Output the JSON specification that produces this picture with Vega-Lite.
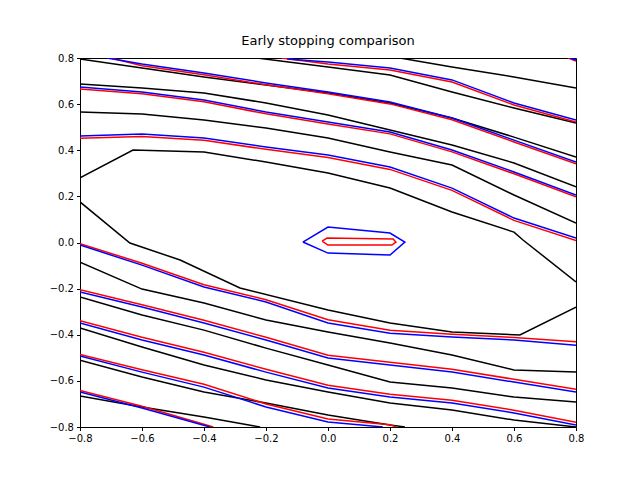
{
  "$schema": "https://vega.github.io/schema/vega-lite/v6.json",
  "width": 496,
  "height": 369,
  "autosize": "none",
  "padding": {"left": 80, "top": 58, "right": 64, "bottom": 53},
  "title": {"text": "Early stopping comparison", "font": "DejaVu Sans", "fontSize": 13, "fontWeight": "normal", "offset": 5},
  "data": {"values": [
    {"k":"T0","c":"k","x":0.232,"y":0.8},{"k":"T0","c":"k","x":0.4,"y":0.761},{"k":"T0","c":"k","x":0.6,"y":0.718},{"k":"T0","c":"k","x":0.8,"y":0.67},
    {"k":"T1","c":"k","x":-0.229,"y":0.8},{"k":"T1","c":"k","x":0,"y":0.761},{"k":"T1","c":"k","x":0.2,"y":0.726},{"k":"T1","c":"k","x":0.4,"y":0.653},{"k":"T1","c":"k","x":0.6,"y":0.583},{"k":"T1","c":"k","x":0.8,"y":0.518},
    {"k":"Ak","c":"k","x":-0.8,"y":0.796},{"k":"Ak","c":"k","x":-0.6,"y":0.757},{"k":"Ak","c":"k","x":-0.4,"y":0.718},{"k":"Ak","c":"k","x":-0.2,"y":0.683},{"k":"Ak","c":"k","x":0,"y":0.648},{"k":"Ak","c":"k","x":0.2,"y":0.605},{"k":"Ak","c":"k","x":0.4,"y":0.54},{"k":"Ak","c":"k","x":0.6,"y":0.457},{"k":"Ak","c":"k","x":0.8,"y":0.371},
    {"k":"Bk","c":"k","x":-0.8,"y":0.687},{"k":"Bk","c":"k","x":-0.6,"y":0.67},{"k":"Bk","c":"k","x":-0.4,"y":0.648},{"k":"Bk","c":"k","x":-0.2,"y":0.605},{"k":"Bk","c":"k","x":0,"y":0.553},{"k":"Bk","c":"k","x":0.2,"y":0.488},{"k":"Bk","c":"k","x":0.4,"y":0.423},{"k":"Bk","c":"k","x":0.6,"y":0.345},{"k":"Bk","c":"k","x":0.8,"y":0.241},
    {"k":"Ck","c":"k","x":-0.8,"y":0.566},{"k":"Ck","c":"k","x":-0.6,"y":0.557},{"k":"Ck","c":"k","x":-0.4,"y":0.531},{"k":"Ck","c":"k","x":-0.2,"y":0.496},{"k":"Ck","c":"k","x":0,"y":0.453},{"k":"Ck","c":"k","x":0.2,"y":0.392},{"k":"Ck","c":"k","x":0.4,"y":0.336},{"k":"Ck","c":"k","x":0.6,"y":0.206},{"k":"Ck","c":"k","x":0.8,"y":0.084},
    {"k":"Ok","c":"k","x":-0.8,"y":0.28},{"k":"Ok","c":"k","x":-0.629,"y":0.401},{"k":"Ok","c":"k","x":-0.4,"y":0.392},{"k":"Ok","c":"k","x":-0.2,"y":0.349},{"k":"Ok","c":"k","x":0,"y":0.301},{"k":"Ok","c":"k","x":0.2,"y":0.236},{"k":"Ok","c":"k","x":0.4,"y":0.132},{"k":"Ok","c":"k","x":0.6,"y":0.045},{"k":"Ok","c":"k","x":0.629,"y":0.011},{"k":"Ok","c":"k","x":0.8,"y":-0.171},
    {"k":"Pk","c":"k","x":-0.8,"y":0.176},{"k":"Pk","c":"k","x":-0.639,"y":-0.002},{"k":"Pk","c":"k","x":-0.477,"y":-0.076},{"k":"Pk","c":"k","x":-0.284,"y":-0.197},{"k":"Pk","c":"k","x":0,"y":-0.293},{"k":"Pk","c":"k","x":0.2,"y":-0.349},{"k":"Pk","c":"k","x":0.4,"y":-0.388},{"k":"Pk","c":"k","x":0.619,"y":-0.401},{"k":"Pk","c":"k","x":0.8,"y":-0.28},
    {"k":"Dk","c":"k","x":-0.8,"y":-0.085},{"k":"Dk","c":"k","x":-0.6,"y":-0.202},{"k":"Dk","c":"k","x":-0.4,"y":-0.262},{"k":"Dk","c":"k","x":-0.2,"y":-0.336},{"k":"Dk","c":"k","x":0,"y":-0.388},{"k":"Dk","c":"k","x":0.2,"y":-0.436},{"k":"Dk","c":"k","x":0.4,"y":-0.488},{"k":"Dk","c":"k","x":0.6,"y":-0.553},{"k":"Dk","c":"k","x":0.8,"y":-0.562},
    {"k":"Ek","c":"k","x":-0.8,"y":-0.236},{"k":"Ek","c":"k","x":-0.6,"y":-0.314},{"k":"Ek","c":"k","x":-0.4,"y":-0.38},{"k":"Ek","c":"k","x":-0.2,"y":-0.458},{"k":"Ek","c":"k","x":0,"y":-0.531},{"k":"Ek","c":"k","x":0.2,"y":-0.605},{"k":"Ek","c":"k","x":0.4,"y":-0.631},{"k":"Ek","c":"k","x":0.6,"y":-0.67},{"k":"Ek","c":"k","x":0.8,"y":-0.692},
    {"k":"Fk","c":"k","x":-0.8,"y":-0.371},{"k":"Fk","c":"k","x":-0.6,"y":-0.453},{"k":"Fk","c":"k","x":-0.4,"y":-0.531},{"k":"Fk","c":"k","x":-0.2,"y":-0.596},{"k":"Fk","c":"k","x":0,"y":-0.648},{"k":"Fk","c":"k","x":0.2,"y":-0.696},{"k":"Fk","c":"k","x":0.4,"y":-0.726},{"k":"Fk","c":"k","x":0.6,"y":-0.77},{"k":"Fk","c":"k","x":0.8,"y":-0.8},
    {"k":"Gk","c":"k","x":-0.8,"y":-0.51},{"k":"Gk","c":"k","x":-0.6,"y":-0.583},{"k":"Gk","c":"k","x":-0.4,"y":-0.648},{"k":"Gk","c":"k","x":-0.2,"y":-0.696},{"k":"Gk","c":"k","x":0,"y":-0.748},{"k":"Gk","c":"k","x":0.2,"y":-0.791},{"k":"Gk","c":"k","x":0.248,"y":-0.8},
    {"k":"Hk","c":"k","x":-0.8,"y":-0.666},{"k":"Hk","c":"k","x":-0.6,"y":-0.713},{"k":"Hk","c":"k","x":-0.4,"y":-0.757},{"k":"Hk","c":"k","x":-0.219,"y":-0.8},

    {"k":"T2r","c":"r","x":-0.15,"y":0.8},{"k":"T2r","c":"r","x":0,"y":0.774},{"k":"T2r","c":"r","x":0.2,"y":0.748},{"k":"T2r","c":"r","x":0.4,"y":0.696},{"k":"T2r","c":"r","x":0.6,"y":0.596},{"k":"T2r","c":"r","x":0.8,"y":0.522},
    {"k":"Xr","c":"r","x":0.775,"y":0.8},{"k":"Xr","c":"r","x":0.8,"y":0.787},
    {"k":"Ar","c":"r","x":-0.7,"y":0.8},{"k":"Ar","c":"r","x":-0.6,"y":0.766},{"k":"Ar","c":"r","x":-0.4,"y":0.727},{"k":"Ar","c":"r","x":-0.2,"y":0.684},{"k":"Ar","c":"r","x":0,"y":0.645},{"k":"Ar","c":"r","x":0.2,"y":0.601},{"k":"Ar","c":"r","x":0.4,"y":0.532},{"k":"Ar","c":"r","x":0.6,"y":0.436},{"k":"Ar","c":"r","x":0.8,"y":0.341},
    {"k":"Br","c":"r","x":-0.8,"y":0.666},{"k":"Br","c":"r","x":-0.6,"y":0.645},{"k":"Br","c":"r","x":-0.4,"y":0.61},{"k":"Br","c":"r","x":-0.2,"y":0.558},{"k":"Br","c":"r","x":0,"y":0.514},{"k":"Br","c":"r","x":0.2,"y":0.471},{"k":"Br","c":"r","x":0.4,"y":0.393},{"k":"Br","c":"r","x":0.6,"y":0.298},{"k":"Br","c":"r","x":0.8,"y":0.198},
    {"k":"Cr","c":"r","x":-0.8,"y":0.452},{"k":"Cr","c":"r","x":-0.6,"y":0.46},{"k":"Cr","c":"r","x":-0.4,"y":0.443},{"k":"Cr","c":"r","x":-0.2,"y":0.404},{"k":"Cr","c":"r","x":0,"y":0.369},{"k":"Cr","c":"r","x":0.2,"y":0.317},{"k":"Cr","c":"r","x":0.4,"y":0.226},{"k":"Cr","c":"r","x":0.6,"y":0.096},{"k":"Cr","c":"r","x":0.8,"y":0.009},
    {"k":"Hxr","c":"r","x":-0.019,"y":0.006},{"k":"Hxr","c":"r","x":-0.003,"y":0.019},{"k":"Hxr","c":"r","x":0.21,"y":0.015},{"k":"Hxr","c":"r","x":0.219,"y":0.002},{"k":"Hxr","c":"r","x":0.206,"y":-0.011},{"k":"Hxr","c":"r","x":0,"y":-0.011},{"k":"Hxr","c":"r","x":-0.019,"y":0.006},
    {"k":"Dr","c":"r","x":-0.8,"y":-0.005},{"k":"Dr","c":"r","x":-0.6,"y":-0.09},{"k":"Dr","c":"r","x":-0.4,"y":-0.183},{"k":"Dr","c":"r","x":-0.2,"y":-0.248},{"k":"Dr","c":"r","x":0,"y":-0.335},{"k":"Dr","c":"r","x":0.2,"y":-0.38},{"k":"Dr","c":"r","x":0.4,"y":-0.398},{"k":"Dr","c":"r","x":0.6,"y":-0.412},{"k":"Dr","c":"r","x":0.8,"y":-0.43},
    {"k":"Er","c":"r","x":-0.8,"y":-0.205},{"k":"Er","c":"r","x":-0.6,"y":-0.27},{"k":"Er","c":"r","x":-0.4,"y":-0.337},{"k":"Er","c":"r","x":-0.2,"y":-0.411},{"k":"Er","c":"r","x":0,"y":-0.489},{"k":"Er","c":"r","x":0.2,"y":-0.519},{"k":"Er","c":"r","x":0.4,"y":-0.55},{"k":"Er","c":"r","x":0.6,"y":-0.593},{"k":"Er","c":"r","x":0.8,"y":-0.636},
    {"k":"Fr","c":"r","x":-0.8,"y":-0.339},{"k":"Fr","c":"r","x":-0.6,"y":-0.411},{"k":"Fr","c":"r","x":-0.4,"y":-0.476},{"k":"Fr","c":"r","x":-0.2,"y":-0.55},{"k":"Fr","c":"r","x":0,"y":-0.619},{"k":"Fr","c":"r","x":0.2,"y":-0.658},{"k":"Fr","c":"r","x":0.4,"y":-0.684},{"k":"Fr","c":"r","x":0.6,"y":-0.727},{"k":"Fr","c":"r","x":0.8,"y":-0.779},
    {"k":"Gr","c":"r","x":-0.8,"y":-0.485},{"k":"Gr","c":"r","x":-0.6,"y":-0.552},{"k":"Gr","c":"r","x":-0.4,"y":-0.615},{"k":"Gr","c":"r","x":-0.2,"y":-0.7},{"k":"Gr","c":"r","x":0,"y":-0.765},{"k":"Gr","c":"r","x":0.2,"y":-0.79},{"k":"Gr","c":"r","x":0.22,"y":-0.8},
    {"k":"Hr","c":"r","x":-0.8,"y":-0.642},{"k":"Hr","c":"r","x":-0.6,"y":-0.71},{"k":"Hr","c":"r","x":-0.37,"y":-0.8},

    {"k":"T2b","c":"b","x":-0.132,"y":0.796},{"k":"T2b","c":"b","x":0,"y":0.783},{"k":"T2b","c":"b","x":0.2,"y":0.757},{"k":"T2b","c":"b","x":0.4,"y":0.705},{"k":"T2b","c":"b","x":0.6,"y":0.605},{"k":"T2b","c":"b","x":0.8,"y":0.531},
    {"k":"Xb","c":"b","x":0.781,"y":0.8},{"k":"Xb","c":"b","x":0.8,"y":0.791},
    {"k":"Ab","c":"b","x":-0.713,"y":0.8},{"k":"Ab","c":"b","x":-0.6,"y":0.774},{"k":"Ab","c":"b","x":-0.4,"y":0.735},{"k":"Ab","c":"b","x":-0.2,"y":0.692},{"k":"Ab","c":"b","x":0,"y":0.653},{"k":"Ab","c":"b","x":0.2,"y":0.609},{"k":"Ab","c":"b","x":0.4,"y":0.54},{"k":"Ab","c":"b","x":0.6,"y":0.444},{"k":"Ab","c":"b","x":0.8,"y":0.349},
    {"k":"Bb","c":"b","x":-0.8,"y":0.674},{"k":"Bb","c":"b","x":-0.6,"y":0.653},{"k":"Bb","c":"b","x":-0.4,"y":0.618},{"k":"Bb","c":"b","x":-0.2,"y":0.566},{"k":"Bb","c":"b","x":0,"y":0.522},{"k":"Bb","c":"b","x":0.2,"y":0.479},{"k":"Bb","c":"b","x":0.4,"y":0.401},{"k":"Bb","c":"b","x":0.6,"y":0.306},{"k":"Bb","c":"b","x":0.8,"y":0.206},
    {"k":"Cb","c":"b","x":-0.8,"y":0.462},{"k":"Cb","c":"b","x":-0.6,"y":0.47},{"k":"Cb","c":"b","x":-0.4,"y":0.453},{"k":"Cb","c":"b","x":-0.2,"y":0.414},{"k":"Cb","c":"b","x":0,"y":0.379},{"k":"Cb","c":"b","x":0.2,"y":0.327},{"k":"Cb","c":"b","x":0.4,"y":0.236},{"k":"Cb","c":"b","x":0.6,"y":0.106},{"k":"Cb","c":"b","x":0.8,"y":0.019},
    {"k":"Hxb","c":"b","x":-0.081,"y":0.002},{"k":"Hxb","c":"b","x":0,"y":0.067},{"k":"Hxb","c":"b","x":0.2,"y":0.041},{"k":"Hxb","c":"b","x":0.248,"y":0.002},{"k":"Hxb","c":"b","x":0.2,"y":-0.054},{"k":"Hxb","c":"b","x":0,"y":-0.046},{"k":"Hxb","c":"b","x":-0.081,"y":0.002},
    {"k":"Db","c":"b","x":-0.8,"y":-0.011},{"k":"Db","c":"b","x":-0.6,"y":-0.098},{"k":"Db","c":"b","x":-0.4,"y":-0.193},{"k":"Db","c":"b","x":-0.2,"y":-0.258},{"k":"Db","c":"b","x":0,"y":-0.349},{"k":"Db","c":"b","x":0.2,"y":-0.393},{"k":"Db","c":"b","x":0.4,"y":-0.41},{"k":"Db","c":"b","x":0.6,"y":-0.423},{"k":"Db","c":"b","x":0.8,"y":-0.445},
    {"k":"Eb","c":"b","x":-0.8,"y":-0.215},{"k":"Eb","c":"b","x":-0.6,"y":-0.28},{"k":"Eb","c":"b","x":-0.4,"y":-0.349},{"k":"Eb","c":"b","x":-0.2,"y":-0.423},{"k":"Eb","c":"b","x":0,"y":-0.501},{"k":"Eb","c":"b","x":0.2,"y":-0.531},{"k":"Eb","c":"b","x":0.4,"y":-0.562},{"k":"Eb","c":"b","x":0.6,"y":-0.605},{"k":"Eb","c":"b","x":0.8,"y":-0.648},
    {"k":"Fb","c":"b","x":-0.8,"y":-0.349},{"k":"Fb","c":"b","x":-0.6,"y":-0.423},{"k":"Fb","c":"b","x":-0.4,"y":-0.488},{"k":"Fb","c":"b","x":-0.2,"y":-0.562},{"k":"Fb","c":"b","x":0,"y":-0.631},{"k":"Fb","c":"b","x":0.2,"y":-0.67},{"k":"Fb","c":"b","x":0.4,"y":-0.696},{"k":"Fb","c":"b","x":0.6,"y":-0.739},{"k":"Fb","c":"b","x":0.8,"y":-0.791},
    {"k":"Gb","c":"b","x":-0.8,"y":-0.492},{"k":"Gb","c":"b","x":-0.6,"y":-0.562},{"k":"Gb","c":"b","x":-0.4,"y":-0.627},{"k":"Gb","c":"b","x":-0.2,"y":-0.713},{"k":"Gb","c":"b","x":0,"y":-0.778},{"k":"Gb","c":"b","x":0.177,"y":-0.8},
    {"k":"Hb","c":"b","x":-0.8,"y":-0.648},{"k":"Hb","c":"b","x":-0.6,"y":-0.718},{"k":"Hb","c":"b","x":-0.381,"y":-0.8}
  ]},
  "mark": {"type": "line", "strokeWidth": 1.5, "clip": true},
  "encoding": {
    "x": {"field": "x", "type": "quantitative", "scale": {"domain": [-0.8, 0.8], "nice": false, "zero": false},
      "axis": {"values": [-0.8, -0.6, -0.4, -0.2, 0, 0.2, 0.4, 0.6, 0.8], "format": ".1f", "title": null}},
    "y": {"field": "y", "type": "quantitative", "scale": {"domain": [-0.8, 0.8], "nice": false, "zero": false},
      "axis": {"values": [-0.8, -0.6, -0.4, -0.2, 0, 0.2, 0.4, 0.6, 0.8], "format": ".1f", "title": null}},
    "color": {"field": "c", "type": "nominal", "scale": {"domain": ["k", "r", "b"], "range": ["black", "red", "blue"]}, "legend": null},
    "detail": {"field": "k"},
    "order": {"value": null}
  },
  "config": {
    "view": {"stroke": "black", "strokeWidth": 1},
    "axis": {"grid": false, "domain": false, "labelFlush": false, "tickColor": "black", "tickSize": 3.5, "labelColor": "black", "labelFont": "DejaVu Sans", "labelFontSize": 10, "labelPadding": 3}
  }
}
